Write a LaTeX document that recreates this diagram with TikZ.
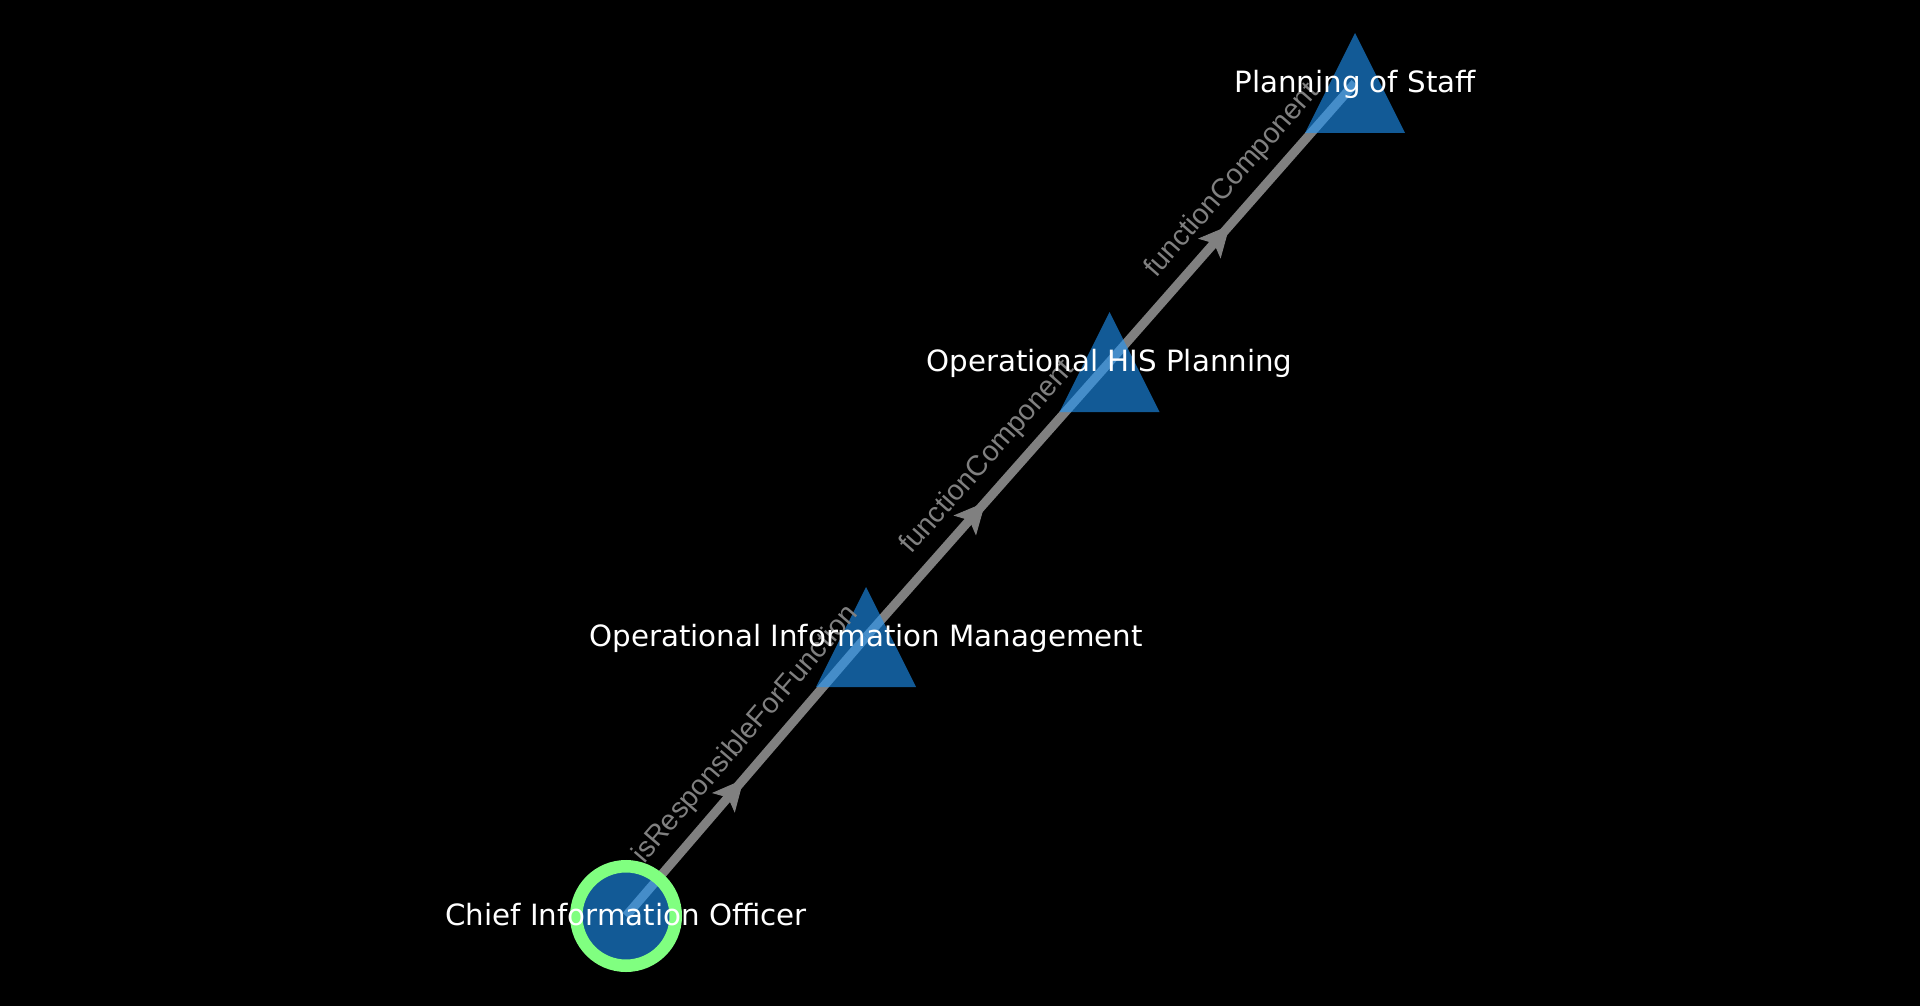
\documentclass[tikz,border=0pt]{standalone}
\usepackage{fontspec}
\setmainfont{DejaVu Sans}
\newfontfamily\edgefont{Liberation Sans}
\usetikzlibrary{arrows.meta,decorations.markings,calc}
\definecolor{edgegray}{RGB}{128,128,128}
\definecolor{nodeblue}{RGB}{31,150,250}
\definecolor{ringgreen}{RGB}{128,255,128}
\begin{document}
\begin{tikzpicture}[x=1pt,y=-1pt,
  anchorpt/.style={inner sep=0pt, minimum size=0pt},
  edge/.style={draw=edgegray, line width=9pt, postaction={decorate},
    decoration={markings, mark=at position 0.49 with {\arrow[edgegray]{Stealth[length=31pt,width=30pt,inset=7pt,line width=1pt]}}}},
  nodefill/.style={fill=nodeblue, fill opacity=0.6},
  ring/.style={draw=ringgreen, line width=12.5pt},
  elabel/.style={text=edgegray, inner sep=0pt, font=\edgefont\fontsize{28.5}{34}\selectfont},
  nlabel/.style={text=white, inner sep=0pt, anchor=base, font=\fontsize{29.3}{35}\selectfont}]
\fill[black] (0,0) rectangle (1920,1006);
\useasboundingbox (0,0) rectangle (1920,1006);
% node positions
\node[anchorpt] (cio) at (626,916) {};
\node[anchorpt] (oim) at (866,637) {};
\node[anchorpt] (ohp) at (1109.5,362) {};
\node[anchorpt] (pos) at (1355,83) {};
% connectors
\draw[edge] (cio.center) -- (oim.center);
\draw[edge] (oim.center) -- (ohp.center);
\draw[edge] (ohp.center) -- (pos.center);
% node shapes
\fill[nodefill] (cio.center) circle[radius=49.75];
\draw[ring] (cio.center) circle[radius=49.75];
\fill[nodefill] ($(oim.center)+(0,-50)$) -- ($(oim.center)+(50,50)$) -- ($(oim.center)+(-50,50)$) -- cycle;
\fill[nodefill] ($(ohp.center)+(0,-50)$) -- ($(ohp.center)+(50,50)$) -- ($(ohp.center)+(-50,50)$) -- cycle;
\fill[nodefill] ($(pos.center)+(0,-50)$) -- ($(pos.center)+(50,50)$) -- ($(pos.center)+(-50,50)$) -- cycle;
% connector labels
\path ($(cio.center)+(0,-42)$) -- node[elabel, sloped] (l1) {isResponsibleForFunction} ($(oim.center)+(0,-42)$);
\path ($(oim.center)+(0,-42)$) -- node[elabel, sloped] (l2) {functionComponent} ($(ohp.center)+(0,-42)$);
\path ($(ohp.center)+(0,-42)$) -- node[elabel, sloped] (l3) {functionComponent} ($(pos.center)+(0,-42)$);
% node labels
\node[nlabel] (cio-t) at ($(cio.center)+(0,9.5)$) {Chief Information Officer};
\node[nlabel] (oim-t) at ($(oim.center)+(0,9.5)$) {Operational Information Management};
\node[nlabel] (ohp-t) at ($(ohp.center)+(0,9.5)$) {Operational HIS Planning};
\node[nlabel] (pos-t) at ($(pos.center)+(0,9.5)$) {Planning of Staff};
\end{tikzpicture}
\end{document}
